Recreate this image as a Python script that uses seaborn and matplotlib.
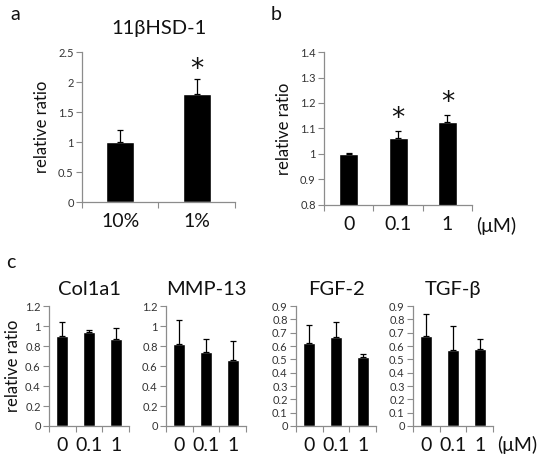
import matplotlib
matplotlib.use('Agg')
import matplotlib.pyplot as plt
from matplotlib.ticker import FixedLocator, FuncFormatter
import seaborn as sns
import numpy as np

# panel a
a_cats = ['10%', '1%']
a_vals = [1.0, 1.8]
a_err = [0.2, 0.25]

# panel b
b_cats = ['0', '0.1', '1']
b_vals = [1.0, 1.062, 1.127]
b_err = [0.002, 0.03, 0.027]

# panel c
c_cats = ['0', '0.1', '1']
c_genes = ['Col1a1', 'MMP-13', 'FGF-2', 'TGF-β']
col1a1 = [0.905, 0.945, 0.87]
col1a1_err = [0.14, 0.02, 0.11]
mmp13 = [0.825, 0.745, 0.66]
mmp13_err = [0.235, 0.13, 0.19]
fgf2 = [0.62, 0.67, 0.515]
fgf2_err = [0.14, 0.11, 0.025]
tgfb = [0.675, 0.57, 0.58]
tgfb_err = [0.165, 0.18, 0.07]

sns.set_style('white')
plt.rcParams['font.family'] = ['Lato', 'DejaVu Sans']

AX_COL = '#8c8c8c'
TXT = '#111111'

fig = plt.figure(figsize=(5.37, 4.59), dpi=100)


def make_panel(rect, cats, vals, err, ylim, yticks, width, catsize, ticksize):
    ax = fig.add_axes(rect)
    sns.barplot(x=cats, y=vals, color='black', width=width, errorbar=None,
                saturation=1, ax=ax, order=cats)
    xs = [p.get_x() + p.get_width() / 2 for p in ax.patches]
    ax.errorbar(xs, vals, yerr=[np.zeros(len(vals)), err], fmt='none',
                ecolor='black', elinewidth=0.9, capsize=2.5, capthick=0.9)
    n = len(cats)
    ax.set_xlim(-0.5, n - 0.5)
    ax.set_ylim(*ylim)
    ax.set_yticks(yticks)
    ax.yaxis.set_major_formatter(FuncFormatter(lambda v, p: f'{v:g}'))
    ax.xaxis.set_major_locator(FixedLocator(np.arange(n + 1) - 0.5))
    ax.xaxis.set_major_formatter(FuncFormatter(lambda v, p: ''))
    ax.set_xticks(np.arange(n), minor=True)
    ax.set_xticklabels(cats, minor=True, fontsize=catsize, color=TXT)
    ax.tick_params(axis='x', which='minor', length=0, pad=8)
    ax.tick_params(axis='x', which='major', length=4, width=0.8, color=AX_COL,
                   direction='out', bottom=True)
    ax.tick_params(axis='y', length=4, width=0.8, color=AX_COL, direction='out',
                   left=True, labelsize=ticksize, labelcolor='#333333', pad=2)
    for s in ['top', 'right']:
        ax.spines[s].set_visible(False)
    for s in ['left', 'bottom']:
        ax.spines[s].set_color(AX_COL)
        ax.spines[s].set_linewidth(0.9)
    ax.set_xlabel('')
    return ax


# panel a
ax_a = make_panel([0.1527, 0.5599, 0.2849, 0.3268], a_cats, a_vals, a_err,
                  (0, 2.5), [0, 0.5, 1, 1.5, 2, 2.5], 0.37, 14, 8)
ax_a.set_ylabel('relative ratio', fontsize=12, color=TXT, labelpad=6)
ax_a.set_title('11βHSD-1', fontsize=14.5, color=TXT, pad=13)
ax_a.text(1, a_vals[1] + a_err[1] - 0.06, '*', ha='center', va='bottom',
          fontsize=19, color=TXT, family='DejaVu Sans')

# panel b
ax_b = make_panel([0.6034, 0.5534, 0.2756, 0.3333], b_cats, b_vals, b_err,
                  (0.8, 1.4), [0.8, 0.9, 1.0, 1.1, 1.2, 1.3, 1.4], 0.385, 14, 8)
ax_b.set_ylabel('relative ratio', fontsize=12, color=TXT, labelpad=6)
for i in [1, 2]:
    ax_b.text(i, b_vals[i] + b_err[i] - 0.005, '*', ha='center', va='bottom',
              fontsize=19, color=TXT, family='DejaVu Sans')
ax_b.text(1.03, -0.075, '(μM)', transform=ax_b.transAxes, ha='left', va='top',
          fontsize=14, color=TXT)

# panel c
c_vals = [col1a1, mmp13, fgf2, tgfb]
c_errs = [col1a1_err, mmp13_err, fgf2_err, tgfb_err]
c_lefts = [49, 166, 296, 413]
c_ylims = [(0, 1.2), (0, 1.2), (0, 0.9), (0, 0.9)]
c_ticks = [np.arange(0, 1.21, 0.2), np.arange(0, 1.21, 0.2),
           np.arange(0, 0.91, 0.1), np.arange(0, 0.91, 0.1)]
for k in range(4):
    ax = make_panel([c_lefts[k] / 537, 0.0719, 80 / 537, 0.2614], c_cats,
                    c_vals[k], c_errs[k], c_ylims[k], np.round(c_ticks[k], 1),
                    0.44, 14, 8)
    ax.set_title(c_genes[k], fontsize=14.5, color=TXT, pad=8)
    if k == 0:
        ax.set_ylabel('relative ratio', fontsize=12, color=TXT, labelpad=3)
    if k == 3:
        ax.text(1.05, -0.085, '(μM)', transform=ax.transAxes, ha='left', va='top',
                fontsize=14, color=TXT)

fig.text(10 / 537, 1 - 14 / 459, 'a', fontsize=14, color=TXT, va='center')
fig.text(271 / 537, 1 - 14 / 459, 'b', fontsize=14, color=TXT, va='center')
fig.text(6 / 537, 1 - 262 / 459, 'c', fontsize=14, color=TXT, va='center')

fig.savefig('out.png', dpi=100)
